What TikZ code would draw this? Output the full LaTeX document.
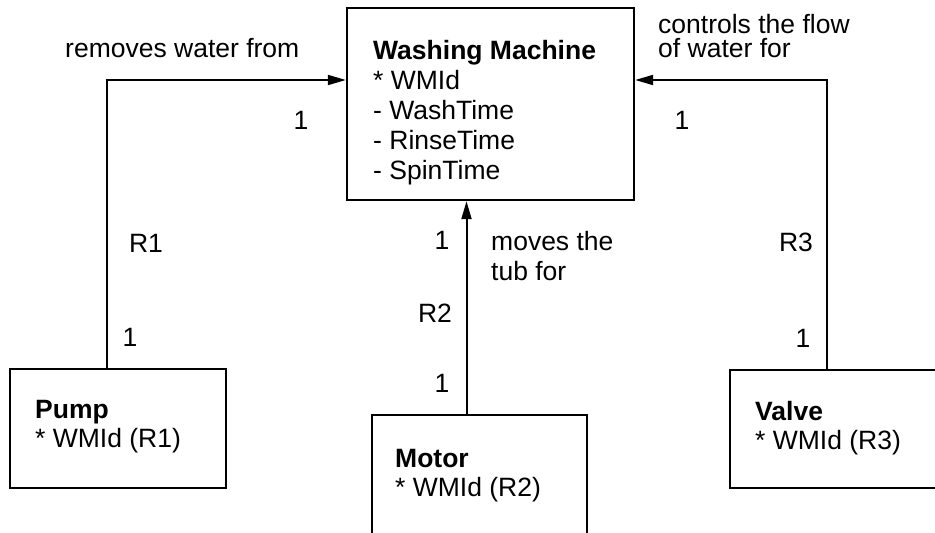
\documentclass[tikz,border=0pt]{standalone}
\usepackage{fontspec}
\setmainfont{Liberation Sans}
\usetikzlibrary{arrows.meta}
\tikzset{
>={Triangle[length=18pt,width=10pt]},
  entity/.style={
    rectangle,
    draw=black, line width=2.4pt,
    inner sep=0pt},
  attrs/.style={
    anchor=north west,
    align=left,
    inner sep=0pt,
    font=\fontsize{26.5}{29}\selectfont},
  rel/.style={draw, line width=2pt, ->},
  mult/.style={inner sep=0pt, font=\fontsize{26.5}{29}\selectfont},
  phrase/.style={inner sep=0pt, anchor=west, align=left, font=\fontsize{26.5}{30}\selectfont},
}
\begin{document}
\begin{tikzpicture}[x=1pt, y=-1pt]
     \useasboundingbox (0,0) rectangle (935,533);
     \clip (0,0) rectangle (935,533);
     \node[entity, minimum width=287pt, minimum height=192pt] (WashingMachine) at (490.5,104) {};
     \node[entity, minimum width=216pt, minimum height=119pt] (Pump)  at (118,428.5) {};
     \node[entity, minimum width=215pt, minimum height=150pt] (Motor) at (479.5,490) {};
     \node[entity, minimum width=216pt, minimum height=118pt] (Valve) at (838,429) {};
     \node[attrs, font=\fontsize{26.5}{30}\selectfont] (WashingMachineText) at (373,40)
          {\textbf{Washing Machine}\\* WMId\\- WashTime\\- RinseTime\\- SpinTime};
     \node[attrs] (PumpText)  at (35,400)  {\textbf{Pump}\\* WMId (R1)};
     \node[attrs] (MotorText) at (395,449) {\textbf{Motor}\\* WMId (R2)};
     \node[attrs] (ValveText) at (755,401) {\textbf{Valve}\\* WMId (R3)};
     % relationships
     \draw[rel] ([xshift=-11pt]Pump.north) |- ([yshift=24pt]WashingMachine.west);
     \draw[rel] ([xshift=-13pt]Motor.north) -- ([xshift=-13pt]Motor.north |- WashingMachine.south);
     \draw[rel] ([xshift=-11pt]Valve.north) |- ([yshift=24pt]WashingMachine.east);
     \node[phrase] (RemovesWater) at (65,48) {removes water from};
     \node[phrase] (MovesTub) at (491,256) {moves the\\tub for};
     \node[phrase, font=\fontsize{26.5}{24}\selectfont] (ControlsFlow) at (658,36) {controls the flow\\of water for};
     \node[mult] (R1Top)    at (301,120) {1};
     \node[mult] (R1Name)   at (146,243) {R1};
     \node[mult] (R1Bottom) at (130,337) {1};
     \node[mult] (R2Top)    at (442,240) {1};
     \node[mult] (R2Name)   at (435,313) {R2};
     \node[mult] (R2Bottom) at (442,383) {1};
     \node[mult] (R3Top)    at (682,120) {1};
     \node[mult] (R3Name)   at (796,242) {R3};
     \node[mult] (R3Bottom) at (803,338) {1};
\end{tikzpicture}
\end{document}
